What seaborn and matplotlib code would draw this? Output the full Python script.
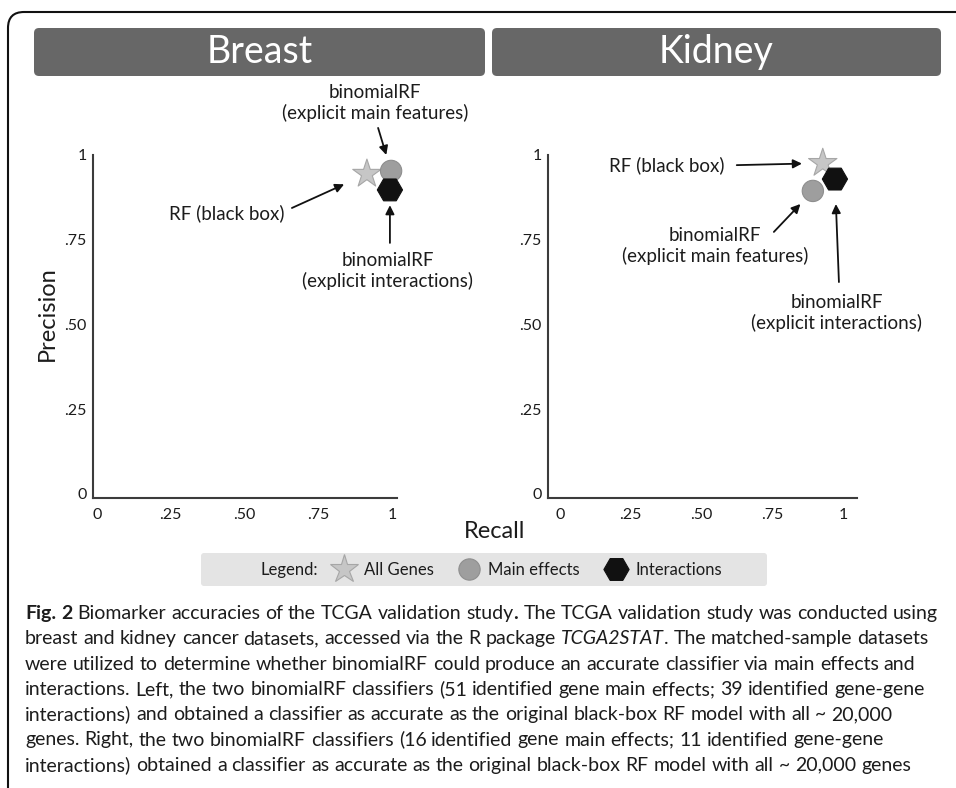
import re
import pandas as pd
import matplotlib
matplotlib.use("Agg")
import matplotlib.pyplot as plt
import seaborn as sns
from matplotlib.patches import FancyBboxPatch
from matplotlib.lines import Line2D
from matplotlib.transforms import IdentityTransform

W, H = 956, 788  # output size in pixels (dpi 100)

# --- values ---
panels = ["Breast", "Kidney"]
models = ["All Genes", "Main effects", "Interactions"]
breast_recall = [0.915, 0.997, 0.993]
breast_precision = [0.944, 0.953, 0.897]
kidney_recall = [0.929, 0.894, 0.972]
kidney_precision = [0.976, 0.894, 0.929]
tick_values = [0, 0.25, 0.5, 0.75, 1]
tick_labels = ["0", ".25", ".50", ".75", "1"]
point_labels = {
    "All Genes": "RF (black box)",
    "Main effects": "binomialRF\n(explicit main features)",
    "Interactions": "binomialRF\n(explicit interactions)",
}
caption = [
    "**Fig.** **2** Biomarker accuracies of the TCGA validation study**.** The TCGA validation study was conducted using",
    "breast and kidney cancer datasets, accessed via the R package *TCGA2STAT*. The matched-sample datasets",
    "were utilized to determine whether binomialRF could produce an accurate classifier via main effects and",
    "interactions. Left, the two binomialRF classifiers (51 identified gene main effects; 39 identified gene-gene",
    "interactions) and obtained a classifier as accurate as the original black-box RF model with all ~ 20,000",
    "genes. Right, the two binomialRF classifiers (16 identified gene main effects; 11 identified gene-gene",
    "interactions) obtained a classifier as accurate as the original black-box RF model with all ~ 20,000 genes",
]

# --- styling ---
marker_map = {"All Genes": "*", "Main effects": "o", "Interactions": "H"}
face_map = {"All Genes": "#c6c6c6", "Main effects": "#9e9e9e", "Interactions": "#111111"}
edge_map = {"All Genes": "#a6a6a6", "Main effects": "#8e8e8e", "Interactions": "#111111"}
size_map = {"All Genes": 460, "Main effects": 235, "Interactions": 330}
TEXT = "#1c1c1c"
AXC = "#3c3c3c"

# annotation layout per panel: model -> (text offset px, arrow tail offset px, shrink pt)
annot_layout = {
    "Breast": {
        "All Genes": ((-140, -39), (-75, -34), 18),
        "Main effects": ((-16, 68), (-13, 43), 12),
        "Interactions": ((-2, -81), (0, -53), 11),
    },
    "Kidney": {
        "All Genes": ((-156, -2), (-86, -2), 15),
        "Main effects": ((-98, -55), (-39, -41), 13),
        "Interactions": ((2, -134), (4, -103), 18),
    },
}
# axes rectangles in pixels (left, top, width, height) and limits
axes_px = {"Breast": (93, 155, 304, 343), "Kidney": (548, 155, 309, 343)}
xlims = {"Breast": (-0.0136, 1.017), "Kidney": (-0.042, 1.050)}
ylim = (-0.012, 1.0)

df = pd.DataFrame({
    "panel": ["Breast"] * 3 + ["Kidney"] * 3,
    "model": models * 2,
    "recall": breast_recall + kidney_recall,
    "precision": breast_precision + kidney_precision,
})

sns.set_theme(style="white")
plt.rcParams["font.family"] = ["Lato", "DejaVu Sans"]

fig = plt.figure(figsize=(W / 100, H / 100), dpi=100)


def fx(x):
    return x / W


def fy(y):
    return 1 - y / H


# outer frame with rounded top-left corner (right and bottom run off the page)
frame = FancyBboxPatch((8, -40), 1100, H - 12 + 40,
                       boxstyle="round,pad=0,rounding_size=16",
                       transform=IdentityTransform(), fill=False,
                       edgecolor="#111111", linewidth=1.5, clip_on=False)
fig.patches.append(frame)

# grey title bars
for name, (x0, x1) in zip(panels, [(34, 485), (492, 941)]):
    bar = FancyBboxPatch((x0, H - 76), x1 - x0, 48,
                         boxstyle="round,pad=0,rounding_size=5",
                         transform=IdentityTransform(), facecolor="#676767",
                         edgecolor="none")
    fig.patches.append(bar)
    fig.text(fx((x0 + x1) / 2), fy(52), name, color="white", fontsize=27,
             ha="center", va="center")

for name in panels:
    l, t, w, h = axes_px[name]
    ax = fig.add_axes([fx(l), fy(t + h), w / W, h / H])
    sub = df[df["panel"] == name]
    sns.scatterplot(data=sub, x="recall", y="precision", hue="model",
                    style="model", size="model", hue_order=models,
                    style_order=models, size_order=models, palette=face_map,
                    markers=marker_map, sizes=size_map, linewidth=0.8,
                    legend=False, ax=ax, zorder=3)
    pts = ax.collections[-1]
    pts.set_edgecolor([edge_map[m] for m in sub["model"]])
    pts.set_clip_on(False)

    for _, row in sub.iterrows():
        txt_off, tail_off, shrink = annot_layout[name][row["model"]]
        xy = (row["recall"], row["precision"])
        ax.annotate("", xy=xy, xytext=tail_off, textcoords="offset pixels",
                    arrowprops=dict(arrowstyle="-|>", color="#111111", lw=1.3,
                                    shrinkA=0, shrinkB=shrink,
                                    mutation_scale=13))
        ax.annotate(point_labels[row["model"]], xy=xy, xytext=txt_off,
                    textcoords="offset pixels", ha="center", va="center",
                    fontsize=13.5, color=TEXT, linespacing=1.15,
                    annotation_clip=False)

    ax.set_xlim(xlims[name])
    ax.set_ylim(ylim)
    ax.set_xticks(tick_values, tick_labels)
    ax.set_yticks(tick_values, tick_labels)
    ax.set_xlabel("")
    ax.set_ylabel("")
    sns.despine(ax=ax)
    for s in ["left", "bottom"]:
        ax.spines[s].set_color(AXC)
        ax.spines[s].set_linewidth(1.5)
    ax.tick_params(axis="both", length=0, labelsize=11.5, colors=TEXT)
    ax.tick_params(axis="x", pad=7)
    ax.tick_params(axis="y", pad=4.5)
    ax.patch.set_alpha(0)

fig.text(fx(47), fy(314), "Precision", rotation=90, fontsize=17, color=TEXT,
         ha="center", va="center")
fig.text(fx(495), fy(532), "Recall", fontsize=17, color=TEXT,
         ha="center", va="center")

# legend strip
strip = FancyBboxPatch((201, H - 586), 566, 33,
                       boxstyle="round,pad=0,rounding_size=3",
                       transform=IdentityTransform(), facecolor="#e4e4e4",
                       edgecolor="none")
fig.patches.append(strip)
fig.text(fx(318), fy(570), "Legend:", fontsize=12, color=TEXT,
         ha="right", va="center")
handles = [Line2D([], [], linestyle="none", marker=marker_map[m],
                  markersize=size_map[m] ** 0.5, markerfacecolor=face_map[m],
                  markeredgecolor=edge_map[m], markeredgewidth=0.8, label=m)
           for m in models]
fig.legend(handles=handles, loc="center", bbox_to_anchor=(fx(526), fy(570)),
           ncol=3, frameon=False, fontsize=12, handlelength=1.7,
           handletextpad=0.3, columnspacing=1.3, borderpad=0,
           labelcolor=TEXT)

# caption, left aligned, mixed bold / italic
renderer = fig.canvas.get_renderer()


def parts_of(word):
    out = []
    for p in re.split(r"(\*\*[^*]+\*\*|\*[^*]+\*)", word):
        if not p:
            continue
        if p.startswith("**"):
            out.append((p[2:-2], "bold", "normal"))
        elif p.startswith("*"):
            out.append((p[1:-1], "normal", "italic"))
        else:
            out.append((p, "normal", "normal"))
    return out


def text_width(s, size, weight="normal", style="normal"):
    t = fig.text(0, 0, s, fontsize=size, fontweight=weight, fontstyle=style)
    w = t.get_window_extent(renderer).width
    t.remove()
    return w


def line_width(line, size):
    sp = text_width("a a", size) - text_width("aa", size)
    words = line.split(" ")
    total = sum(text_width(p, size, wt, st)
                for wd in words for p, wt, st in parts_of(wd))
    return total + sp * (len(words) - 1)


cap_size = 14.0
cap_size = min(15.0, cap_size * 913 / line_width(caption[0], cap_size))
space = text_width("a a", cap_size) - text_width("aa", cap_size)

for i, line in enumerate(caption):
    x = 25
    y = 619 + i * 25.3
    for wd in line.split(" "):
        for p, wt, st in parts_of(wd):
            t = fig.text(fx(x), fy(y), p, fontsize=cap_size, fontweight=wt,
                         fontstyle=st, color=TEXT, ha="left", va="baseline")
            x += t.get_window_extent(renderer).width
        x += space

fig.savefig("out.png", dpi=100)
